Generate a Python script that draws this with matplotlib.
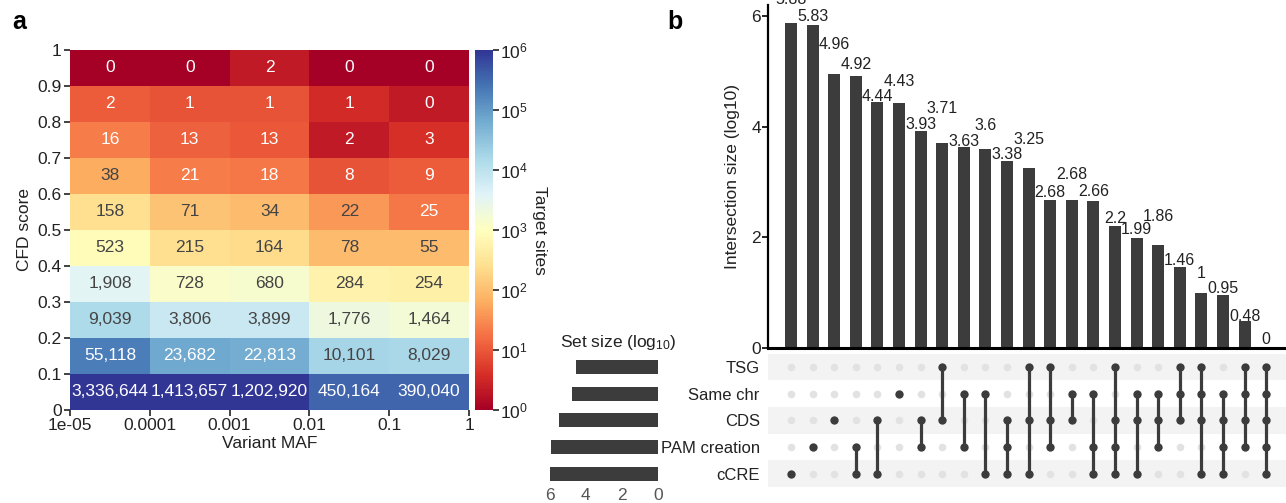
import numpy as np
import matplotlib
matplotlib.use("Agg")
import matplotlib.pyplot as plt
from matplotlib.colors import LogNorm
from matplotlib.ticker import LogFormatterSciNotation, NullLocator

plt.rcParams['font.family'] = ['Liberation Sans', 'DejaVu Sans']
plt.rcParams['mathtext.fontset'] = 'custom'
plt.rcParams['mathtext.rm'] = 'Liberation Sans'
plt.rcParams['mathtext.it'] = 'Liberation Sans:italic'

# ---------------- data: panel a ----------------
maf_edges = [1e-5, 1e-4, 1e-3, 1e-2, 1e-1, 1.0]
maf_labels = ['1e-05', '0.0001', '0.001', '0.01', '0.1', '1']
cfd_edges = [0.0, 0.1, 0.2, 0.3, 0.4, 0.5, 0.6, 0.7, 0.8, 0.9, 1.0]
cfd_labels = ['0', '0.1', '0.2', '0.3', '0.4', '0.5', '0.6', '0.7', '0.8', '0.9', '1']

# counts shown in cells, rows from CFD 0-0.1 (bottom) to 0.9-1 (top)
counts = [
    [3336644, 1413657, 1202920, 450164, 390040],
    [55118, 23682, 22813, 10101, 8029],
    [9039, 3806, 3899, 1776, 1464],
    [1908, 728, 680, 284, 254],
    [523, 215, 164, 78, 55],
    [158, 71, 34, 22, 25],
    [38, 21, 18, 8, 9],
    [16, 13, 13, 2, 3],
    [2, 1, 1, 1, 0],
    [0, 0, 2, 0, 0],
]
# colour value (log10 target sites)
color_log10 = [
    [6.1, 6.1, 6.1, 5.55, 5.55],
    [5.3, 4.85, 4.8, 4.25, 4.2],
    [4.15, 3.85, 3.85, 3.35, 3.25],
    [3.55, 3.1, 3.15, 2.75, 2.7],
    [2.95, 2.4, 2.35, 1.95, 1.95],
    [2.4, 2.05, 1.95, 1.6, 1.3],
    [1.8, 1.35, 1.3, 0.95, 1.05],
    [1.35, 1.1, 1.0, 0.35, 0.6],
    [1.05, 0.95, 0.95, 0.55, 0.35],
    [0.02, 0.02, 0.35, 0.02, 0.02],
]

# ---------------- data: panel b ----------------
set_names = ['TSG', 'Same chr', 'CDS', 'PAM creation', 'cCRE']
set_size_log10 = [4.57, 4.79, 5.48, 5.96, 6.0]
inter_log10 = [5.88, 5.83, 4.96, 4.92, 4.44, 4.43, 3.93, 3.71, 3.63, 3.6, 3.38,
               3.25, 2.68, 2.68, 2.66, 2.2, 1.99, 1.86, 1.46, 1, 0.95, 0.48, 0]
combos = [
    ['cCRE'],
    ['PAM creation'],
    ['CDS'],
    ['PAM creation', 'cCRE'],
    ['CDS', 'cCRE'],
    ['Same chr'],
    ['CDS', 'PAM creation'],
    ['TSG', 'CDS'],
    ['Same chr', 'PAM creation'],
    ['Same chr', 'cCRE'],
    ['CDS', 'PAM creation', 'cCRE'],
    ['TSG', 'CDS', 'cCRE'],
    ['TSG', 'CDS', 'PAM creation'],
    ['Same chr', 'CDS'],
    ['Same chr', 'PAM creation', 'cCRE'],
    ['TSG', 'CDS', 'PAM creation', 'cCRE'],
    ['Same chr', 'CDS', 'cCRE'],
    ['Same chr', 'CDS', 'PAM creation'],
    ['TSG', 'Same chr', 'CDS'],
    ['TSG', 'Same chr', 'CDS', 'cCRE'],
    ['Same chr', 'CDS', 'PAM creation', 'cCRE'],
    ['TSG', 'Same chr', 'CDS', 'PAM creation'],
    ['TSG', 'Same chr', 'CDS', 'PAM creation', 'cCRE'],
]
# style: label lift above bar top (pixels)
label_lift_px = [23, 9, 29, 11, 6, 21, 6, 34, 6, 23, 7, 29, 7, 25, 9, 8, 8, 29, 7, 19, 7, 5, 8]

# ---------------- figure ----------------
W, H = 1286, 503
fig = plt.figure(figsize=(W / 100, H / 100), dpi=100)

def box(x0, y0, x1, y1):
    return [x0 / W, 1 - y1 / H, (x1 - x0) / W, (y1 - y0) / H]

cmap = plt.get_cmap('RdYlBu')
norm = LogNorm(1, 1e6)

# panel a heatmap
ax = fig.add_axes(box(70, 50, 469, 410))
C = 10 ** np.array(color_log10)
mesh = ax.pcolormesh(maf_edges, cfd_edges, C, cmap=cmap, norm=norm, shading='flat')
ax.set_xscale('log')
ax.set_xlim(maf_edges[0], maf_edges[-1])
ax.set_ylim(cfd_edges[0], cfd_edges[-1])
ax.set_xticks(maf_edges)
ax.set_xticklabels(maf_labels)
ax.xaxis.set_minor_locator(NullLocator())
ax.set_yticks(cfd_edges)
ax.set_yticklabels(cfd_labels)
for s in ax.spines.values():
    s.set_visible(False)
ax.tick_params(axis='both', labelsize=12.5, length=4, width=1.2, color='#222222',
               labelcolor='#222222', pad=2)
ax.set_xlabel('Variant MAF', fontsize=12.5, color='#222222', labelpad=2)
ax.set_ylabel('CFD score', fontsize=12.5, color='#222222', labelpad=4)

for r in range(len(counts)):
    for c in range(len(counts[r])):
        xc = np.sqrt(maf_edges[c] * maf_edges[c + 1])
        yc = (cfd_edges[r] + cfd_edges[r + 1]) / 2
        rgb = cmap(norm(C[r][c]))
        lum = 0.299 * rgb[0] + 0.587 * rgb[1] + 0.114 * rgb[2]
        tc = 'white' if lum * 255 < 165 else '#444444'
        ax.text(xc, yc, f"{counts[r][c]:,}", ha='center', va='center',
                fontsize=12.5, color=tc)

# colorbar
cax = fig.add_axes(box(475, 50, 493, 410))
cb = fig.colorbar(mesh, cax=cax)
cb.outline.set_visible(False)
cb.set_ticks([1, 10, 100, 1e3, 1e4, 1e5, 1e6])
cb.ax.yaxis.set_major_formatter(LogFormatterSciNotation())
cb.ax.yaxis.set_minor_locator(NullLocator())
cb.ax.tick_params(labelsize=12.5, length=4, width=1.2, color='#222222',
                  labelcolor='#222222', pad=1)
cb.set_label('Target sites', rotation=270, fontsize=12.5, color='#222222', labelpad=14)

fig.text(12 / W, 1 - 22 / H, 'a', fontsize=18, fontweight='bold', va='center', ha='left')
fig.text(667 / W, 1 - 22 / H, 'b', fontsize=18, fontweight='bold', va='center', ha='left')

# panel b: intersection bars
n = len(inter_log10)
x0px, dxpx = 791, 21.6
xlim = ((768 - x0px) / dxpx, (1286 - x0px) / dxpx)
bar_color = '#3c3c3c'

axb = fig.add_axes(box(768, 5, 1286, 348))
xs = np.arange(n)
axb.bar(xs, inter_log10, width=0.56, color=bar_color)
axb.set_xlim(*xlim)
axb.set_ylim(0, 6.2)
axb.set_yticks([0, 2, 4, 6])
axb.set_xticks([])
axb.spines['top'].set_visible(False)
axb.spines['right'].set_visible(False)
axb.spines['left'].set_linewidth(1.6)
axb.spines['bottom'].set_linewidth(2.2)
axb.tick_params(axis='y', labelsize=12.5, length=4, width=1.2, pad=1, labelcolor='#222222')
axb.set_ylabel('Intersection size (log10)', fontsize=12.5, color='#222222', labelpad=8)
for i, v in enumerate(inter_log10):
    axb.annotate(f"{v:g}", (i, v), xytext=(0, label_lift_px[i] * 0.72),
                 textcoords='offset points', ha='center', va='center',
                 fontsize=11.5, color='#222222', annotation_clip=False)

# panel b: matrix
axm = fig.add_axes(box(768, 353.7, 1286, 487))
ns = len(set_names)
rows = {name: ns - 1 - k for k, name in enumerate(set_names)}
for k, name in enumerate(set_names):
    if k % 2 == 0:
        axm.axhspan(rows[name] - 0.5, rows[name] + 0.5, color='#f3f3f3', lw=0, zorder=0)
for i, combo in enumerate(combos):
    axm.scatter([i] * ns, list(rows.values()), s=30, color='#e2e2e2', zorder=2, lw=0)
    ys = [rows[s] for s in combo]
    if len(ys) > 1:
        axm.plot([i, i], [min(ys), max(ys)], color=bar_color, lw=2.3, zorder=3,
                 solid_capstyle='butt')
    axm.scatter([i] * len(ys), ys, s=36, color=bar_color, zorder=4, lw=0)
axm.set_xlim(*xlim)
axm.set_ylim(-0.5, ns - 0.5)
axm.set_xticks([])
axm.set_yticks([rows[s] for s in set_names])
axm.set_yticklabels(set_names)
axm.tick_params(axis='y', length=0, labelsize=12, pad=6, labelcolor='#222222')
for s in axm.spines.values():
    s.set_visible(False)

# panel b: set size bars
axs = fig.add_axes(box(548, 353.7, 658, 487))
axs.barh([rows[s] for s in set_names], set_size_log10, height=0.52, color=bar_color)
axs.set_xlim(6.1, 0)
axs.set_ylim(-0.5, ns - 0.5)
axs.set_xticks([6, 4, 2, 0])
axs.set_yticks([])
for s in axs.spines.values():
    s.set_visible(False)
axs.tick_params(axis='x', length=0, labelsize=12.5, pad=1, labelcolor='#555555')
fig.text(618 / W, 1 - 343 / H, 'Set size (log$_{10}$)', ha='center', va='center',
         fontsize=12.5, color='#222222')

fig.savefig('out.png', dpi=100)
